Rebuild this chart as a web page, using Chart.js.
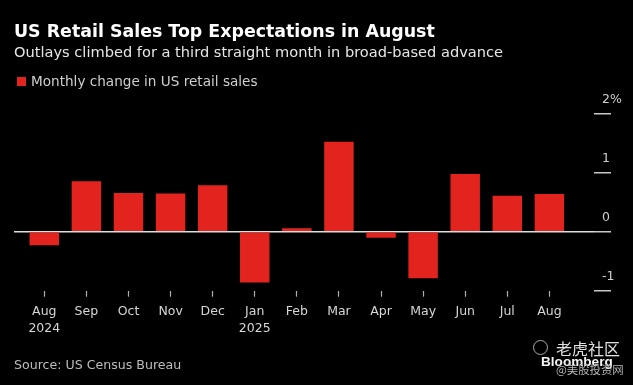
<!DOCTYPE html>
<html>
<head>
<meta charset="utf-8">
<title>US Retail Sales Top Expectations in August</title>
<script src="https://cdn.jsdelivr.net/npm/chart.js@4.4.1/dist/chart.umd.min.js"></script>
<style>
  html, body { margin: 0; padding: 0; background: #000; }
  .wrap { position: relative; width: 633px; height: 385px; overflow: hidden; background: #000; font-family: 'DejaVu Sans', sans-serif; }
  canvas { position: absolute; left: 0; top: 0; }
  .txt { position: absolute; white-space: nowrap; }
  .title { left: 14px; top: 20.7px; font-size: 17.4px; line-height: 20px; font-weight: bold; color: #fff; }
  .subtitle { left: 14px; top: 43.2px; font-size: 14.6px; line-height: 18px; color: #e6e6e6; }
  .legend-box { position: absolute; left: 17px; top: 77px; width: 9px; height: 9px; background: #e3231e; }
  .legend { left: 31px; top: 73.4px; font-size: 13.6px; line-height: 16px; color: #cfcfcf; }
  .source { left: 14px; top: 357px; font-size: 12.6px; line-height: 16px; color: #bdbdbd; }
  .wm-logo { position: absolute; left: 533px; top: 340px; width: 13px; height: 13px; border: 1.5px solid #aaa; border-radius: 50%; }
  .wm-cn { left: 556px; top: 339px; font-family: 'Noto Sans CJK SC', sans-serif; font-size: 16px; line-height: 18px; color: #e0e0e0; }
  .wm-bb { left: 541px; top: 353px; font-family: 'Liberation Sans', sans-serif; font-weight: bold; font-size: 13.6px; line-height: 17px; color: #f2f2f2; }
  .wm-site { left: 556px; top: 362px; font-family: 'Noto Sans CJK SC', sans-serif; font-size: 11.4px; line-height: 14px; color: #b5b5b5; }
</style>
</head>
<body>
<div class="wrap">
  <canvas id="salesChart" width="633" height="385"></canvas>
  <div class="txt title">US Retail Sales Top Expectations in August</div>
  <div class="txt subtitle">Outlays climbed for a third straight month in broad-based advance</div>
  <div class="legend-box"></div>
  <div class="txt legend">Monthly change in US retail sales</div>
  <div class="txt source">Source: US Census Bureau</div>
  <div class="wm-logo"></div>
  <div class="txt wm-cn">老虎社区</div>
  <div class="txt wm-bb">Bloomberg</div>
  <div class="txt wm-site">@美股投资网</div>
</div>
<script>
// Chart data
const months = ['Aug', 'Sep', 'Oct', 'Nov', 'Dec', 'Jan', 'Feb', 'Mar', 'Apr', 'May', 'Jun', 'Jul', 'Aug'];
const years = ['2024', '', '', '', '', '2025', '', '', '', '', '', '', ''];
const retailChange = [-0.23, 0.86, 0.66, 0.65, 0.79, -0.86, 0.06, 1.53, -0.1, -0.79, 0.98, 0.61, 0.64];
const yTicks = [-1, 0, 1, 2];

Chart.defaults.font.family = "'DejaVu Sans', sans-serif";

const ctx = document.getElementById('salesChart').getContext('2d');

const salesChart = new Chart(ctx, {
    type: 'bar',
    data: {
        datasets: [{
            label: 'Monthly change in US retail sales',
            data: retailChange.map((v, i) => ({ x: i, y: v })),
            backgroundColor: '#e3231e',
            borderWidth: 0,
            barPercentage: 0.7,
            categoryPercentage: 1
        }]
    },
    options: {
        responsive: false,
        animation: false,
        devicePixelRatio: 1,
        layout: {
            padding: { left: 14, top: 114, right: 0, bottom: 0 }
        },
        plugins: {
            legend: { display: false },
            tooltip: { enabled: false }
        },
        scales: {
            x: {
                type: 'linear',
                min: -0.72,
                max: 13.06,
                offset: false,
                border: { display: false },
                grid: {
                    offset: false,
                    drawOnChartArea: false,
                    drawTicks: true,
                    tickLength: 6,
                    tickColor: '#b0b0b0',
                    tickWidth: 1.2
                },
                ticks: {
                    autoSkip: false,
                    maxRotation: 0,
                    padding: 6,
                    color: '#d6d6d6',
                    font: { size: 12.5, lineHeight: 1.4 },
                    callback: function(value) {
                        return years[value] ? [months[value], years[value]] : months[value];
                    }
                },
                // one tick per month
                afterBuildTicks: function(axis) {
                    axis.ticks = months.map((m, i) => ({ value: i }));
                },
                afterFit: function(axis) {
                    axis.height = 94.3;
                }
            },
            y: {
                position: 'right',
                min: yTicks[0],
                max: yTicks[yTicks.length - 1],
                z: 1,
                border: { display: false },
                grid: {
                    drawOnChartArea: true,
                    drawTicks: true,
                    tickLength: 17,
                    lineWidth: 1.5,
                    tickWidth: 1.5,
                    tickColor: '#c8c8c8',
                    color: c => (c.tick && c.tick.value === 0) ? '#dedede' : 'rgba(0,0,0,0)'
                },
                ticks: {
                    stepSize: 1,
                    padding: -9,
                    crossAlign: 'near',
                    labelOffset: -14,
                    color: '#d0d0d0',
                    font: { size: 12.5 },
                    callback: v => v === yTicks[yTicks.length - 1] ? v + '%' : String(v)
                },
                afterFit: function(axis) {
                    axis.width = 39;
                }
            }
        }
    }
});
</script>
</body>
</html>
